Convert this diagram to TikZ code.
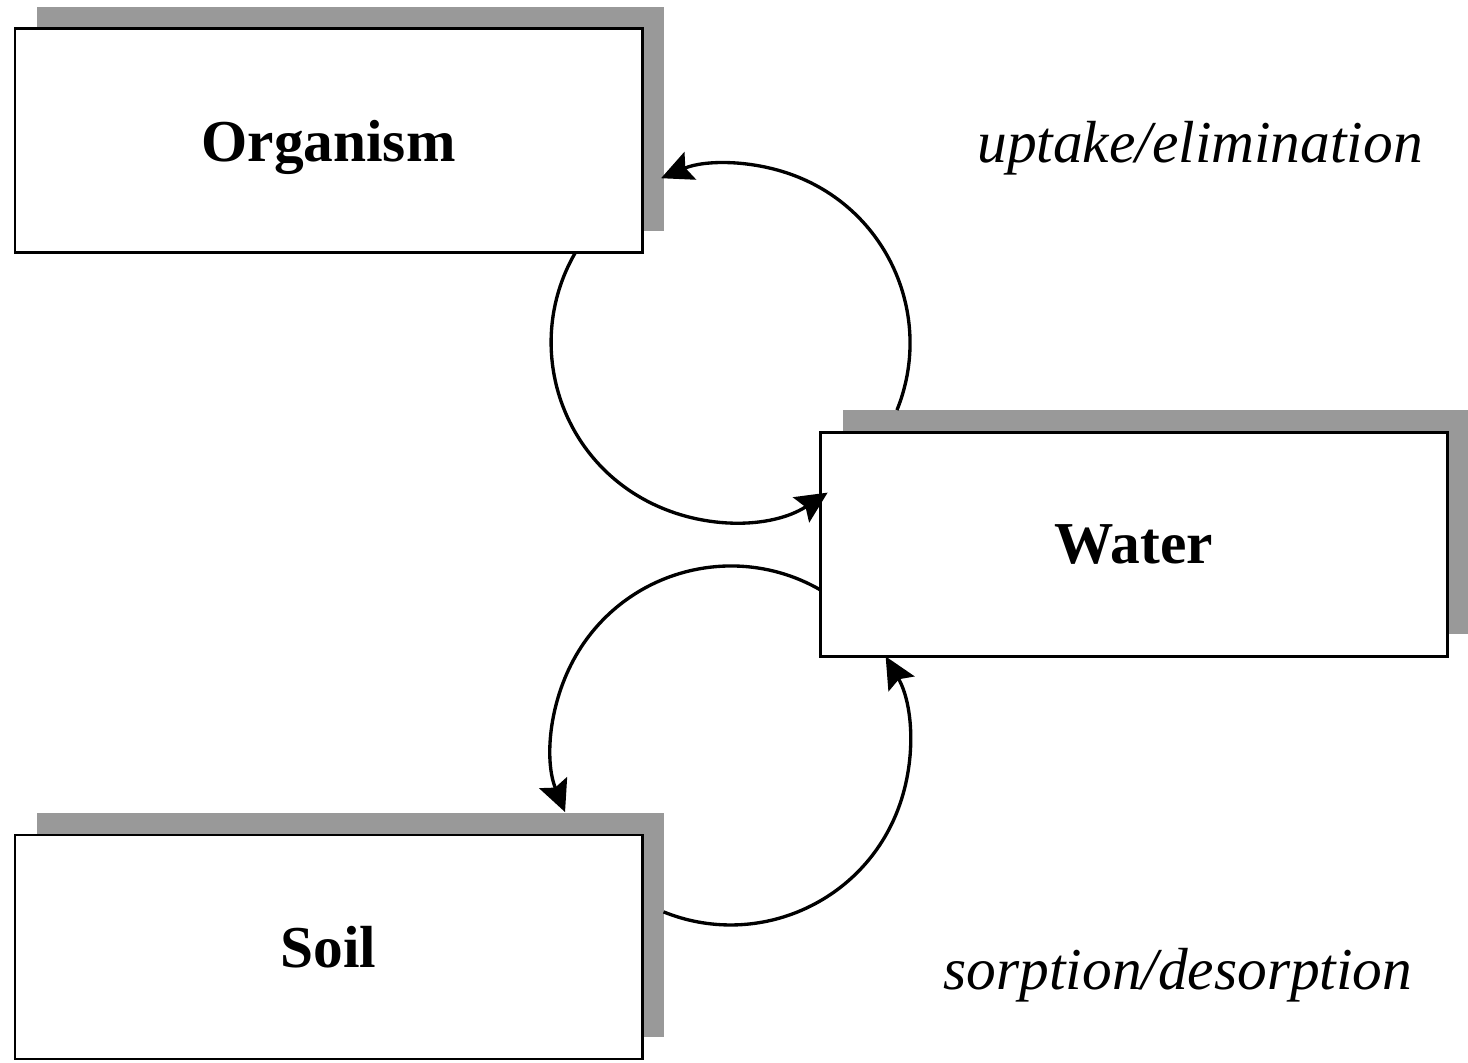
\documentclass[tikz,border=0pt]{standalone}
\usepackage{fontspec}
\setmainfont{Liberation Serif}
\usetikzlibrary{arrows.meta,shadows,calc}

\definecolor{shadowgray}{RGB}{153,153,153}

\tikzset{
  compartment/.style={draw, fill=white, line width=1.7pt, rectangle,
    minimum width=12.54cm, minimum height=4.48cm, text depth=0pt,
    font=\fontsize{33.8}{40}\selectfont\bfseries,
    general shadow={fill=shadowgray, shadow xshift=0.44cm, shadow yshift=0.44cm}},
  process/.style={text depth=0pt, font=\fontsize{33.8}{40}\selectfont\itshape},
  flow/.style={line width=1.9pt, -{Stealth[length=18pt, width=17pt, inset=3pt]}}
}

\begin{document}
\begin{tikzpicture}

    \useasboundingbox (0,0) rectangle (29.36,21.24);

    % Compartimentos
    \node[compartment] (organism) at (6.57,18.42) {Organism};
    \node[compartment] (water) at (22.68,10.35) {Water};
    \node[compartment] (soil) at (6.57,2.30) {Soil};

    % Processos
    \node[process] (uptake) at (24.0,18.40) {uptake/elimination};
    \node[process] (sorption) at (23.56,1.86) {sorption/desorption};

    % Centros dos ciclos
    \coordinate (cycA) at (14.62,14.38);
    \coordinate (cycB) at (14.62,6.34);

    % Organismo <-> agua
    \draw[flow] ($(cycA)+(-22:3.58)$) arc[start angle=-22, end angle=113, radius=3.58cm];
    \draw[flow] ($(cycA)+(150:3.6)$) arc[start angle=150, end angle=303, radius=3.58cm];

    % Solo <-> agua
    \draw[flow] ($(cycB)+(60:3.58)$) arc[start angle=60, end angle=202, radius=3.58cm];
    \draw[flow] ($(cycB)+(248:3.6)$) arc[start angle=248, end angle=390, radius=3.58cm];

\end{tikzpicture}
\end{document}
